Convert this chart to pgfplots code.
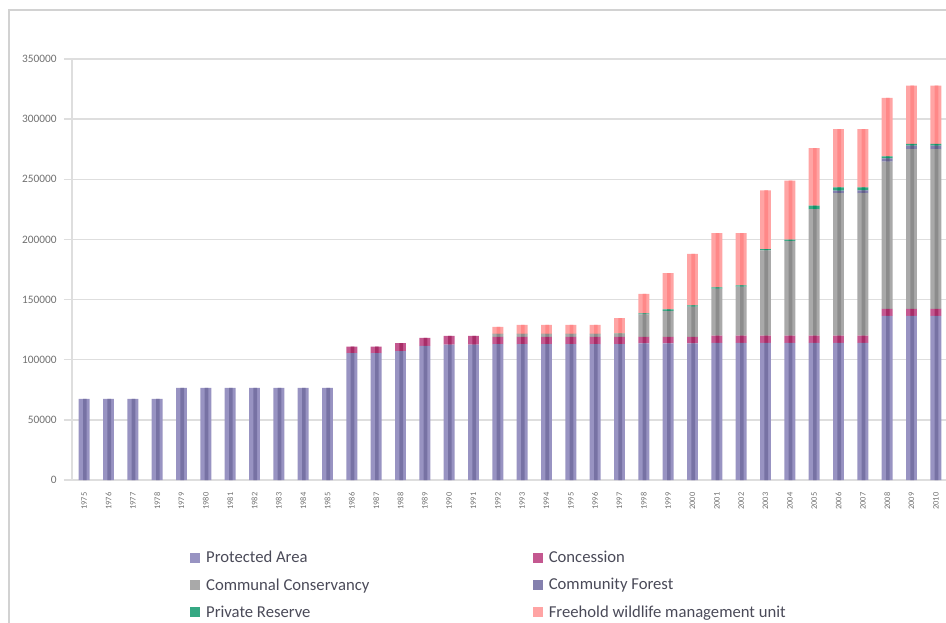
\documentclass[border=0pt]{standalone}
\usepackage{fontspec}
\setmainfont{Carlito}
\usepackage{pgfplots}
\usepackage{pgfplotstable}
\pgfplotsset{compat=1.18}
\definecolor{paA}{HTML}{9893C2}\definecolor{paB}{HTML}{7772A4}
\definecolor{coA}{HTML}{C45890}\definecolor{coB}{HTML}{A82E68}
\definecolor{ccA}{HTML}{A9A9A9}\definecolor{ccB}{HTML}{8C8C8C}
\definecolor{cfA}{HTML}{8480AE}\definecolor{cfB}{HTML}{646088}
\definecolor{prA}{HTML}{35A883}\definecolor{prB}{HTML}{10946A}
\definecolor{fwA}{HTML}{FFA4A4}\definecolor{fwB}{HTML}{FF8888}
\definecolor{gridc}{HTML}{DEDEDE}
\definecolor{framec}{HTML}{D2D2D2}
\definecolor{ticklab}{HTML}{707070}
\definecolor{legtext}{HTML}{4A4A58}
\pgfplotstableread{
x year PA Conc CC CF PR FW
0 1975 67500 0 0 0 0 0
1 1976 67500 0 0 0 0 0
2 1977 67500 0 0 0 0 0
3 1978 67500 0 0 0 0 0
4 1979 76500 0 0 0 0 0
5 1980 76500 0 0 0 0 0
6 1981 76500 0 0 0 0 0
7 1982 76500 0 0 0 0 0
8 1983 76500 0 0 0 0 0
9 1984 76500 0 0 0 0 0
10 1985 76500 0 0 0 0 0
11 1986 105400 5500 0 0 0 0
12 1987 105400 5500 0 0 0 0
13 1988 107100 6600 0 0 0 0
14 1989 111500 6600 0 0 0 0
15 1990 112600 7200 0 0 0 0
16 1991 112600 7200 0 0 0 0
17 1992 113000 6000 2200 0 300 5800
18 1993 113000 6000 2200 0 300 7400
19 1994 113000 6000 2200 0 300 7400
20 1995 113000 6000 2200 0 300 7400
21 1996 113000 6000 2200 0 300 7400
22 1997 113000 6000 2200 0 400 12900
23 1998 113500 5500 18800 0 800 16100
24 1999 113500 5500 21600 0 1200 30200
25 2000 113500 5500 25200 0 1000 42800
26 2001 114000 6000 39200 0 1000 45000
27 2002 114000 6000 40800 0 1000 43400
28 2003 114000 6000 70800 0 1100 48800
29 2004 114000 6000 78800 0 1100 48900
30 2005 114000 6000 105200 0 3000 47800
31 2006 114000 6000 118500 2000 2700 48600
32 2007 114000 6000 118500 2200 2500 48600
33 2008 136400 5900 122300 2700 1700 48600
34 2009 136400 5900 132800 2800 1600 48300
35 2010 136400 5900 132800 2800 1600 48300
}\data
\pgfplotsset{base/.style={
  at={(54pt,106.5pt)}, anchor=south west,
  width=657pt, height=315.75pt, scale only axis,
  ybar stacked,
  xmin=-0.5, xmax=35.5, ymin=0, ymax=350000,
  enlargelimits=false}}
\begin{document}
\begin{tikzpicture}
\useasboundingbox (0,0) rectangle (709.5pt,466.5pt);
\draw[framec, line width=1.5pt] (6.75pt,-2pt) -- (6.75pt,459pt) -- (712pt,459pt);
\begin{axis}[base, bar width=0.45,
  axis x line*=bottom, axis y line*=left,
  axis line style={gridc, line width=1.1pt},
  ymajorgrids, grid style={gridc, line width=1.1pt},
  scaled y ticks=false,
  ytick={0,50000,100000,150000,200000,250000,300000,350000},
  yticklabels={0,50000,100000,150000,200000,250000,300000,350000},
  xtick={0,...,35},
  xticklabels={1975,1976,1977,1978,1979,1980,1981,1982,1983,1984,1985,1986,1987,1988,1989,1990,1991,1992,1993,1994,1995,1996,1997,1998,1999,2000,2001,2002,2003,2004,2005,2006,2007,2008,2009,2010},
  minor xtick={-0.5,0.5,...,35.5},
  tick align=outside,
  major tick length=6pt,
  minor tick length=5pt,
  xtick style={draw=none},
  minor x tick style={gridc, line width=1.1pt},
  ytick style={gridc, line width=1.1pt},
  yticklabel style={font=\fontsize{8.5}{10}\selectfont, text=ticklab, xshift=-2pt},
  xticklabel style={rotate=90, anchor=east, font=\fontsize{6.3}{7}\selectfont, text=ticklab},
  legend columns=2,
  legend cell align=left,
  legend image code/.code={\fill[#1] (0pt,-3.6pt) rectangle (7.5pt,3.9pt);},
  legend style={at={(axis description cs:0.13,-0.156)}, anchor=north west,
    draw=none, fill=none, font=\fontsize{12.5}{14}\selectfont, text=legtext,
    row sep=6.2pt, /tikz/every odd column/.append style={column sep=2.5pt}},
]
\addplot[draw=none, fill=paA] table[x=x,y=PA]{\data};
\addlegendentry{\makebox[243pt][l]{Protected Area}}
\addplot[draw=none, fill=coA] table[x=x,y=Conc]{\data};
\addlegendentry{Concession}
\addplot[draw=none, fill=ccA] table[x=x,y=CC]{\data};
\addlegendentry{\makebox[243pt][l]{Communal Conservancy}}
\addplot[draw=none, fill=cfA] table[x=x,y=CF]{\data};
\addlegendentry{Community Forest}
\addplot[draw=none, fill=prA] table[x=x,y=PR]{\data};
\addlegendentry{\makebox[243pt][l]{Private Reserve}}
\addplot[draw=none, fill=fwA] table[x=x,y=FW]{\data};
\addlegendentry{Freehold wildlife management unit}
\end{axis}
\begin{axis}[base, bar width=0.15, bar shift=0.03, hide axis]
\addplot[draw=none, fill=paB] table[x=x,y=PA]{\data};
\addplot[draw=none, fill=coB] table[x=x,y=Conc]{\data};
\addplot[draw=none, fill=ccB] table[x=x,y=CC]{\data};
\addplot[draw=none, fill=cfB] table[x=x,y=CF]{\data};
\addplot[draw=none, fill=prB] table[x=x,y=PR]{\data};
\addplot[draw=none, fill=fwB] table[x=x,y=FW]{\data};
\end{axis}
\end{tikzpicture}
\end{document}
